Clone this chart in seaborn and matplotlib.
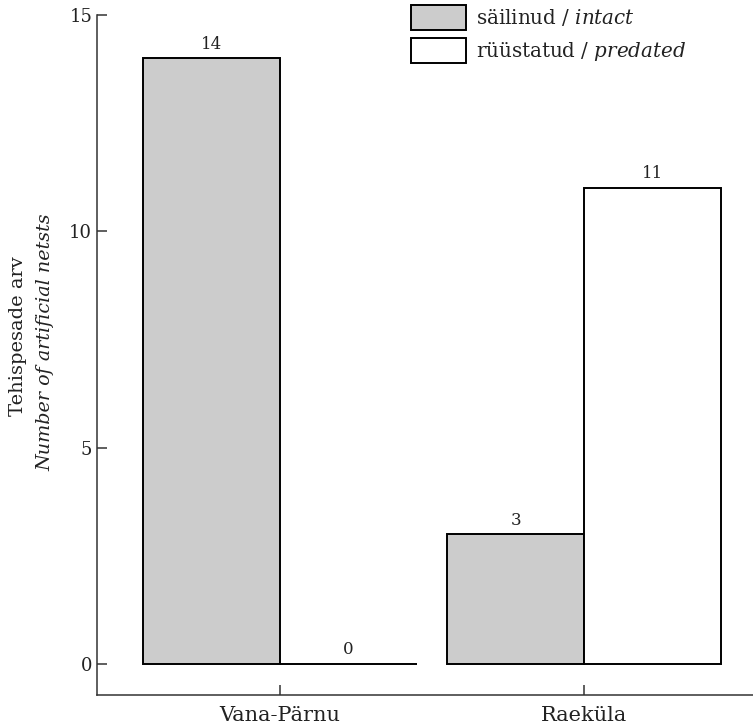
import pandas as pd
import numpy as np
import matplotlib.pyplot as plt
import seaborn as sns

# andmed
sites = ['Vana-Pärnu', 'Raeküla']
intact = [14, 3]
predated = [0, 11]
status_labels = ['säilinud / $\\mathit{intact}$', 'rüüstatud / $\\mathit{predated}$']

df = pd.DataFrame({
    'Site': sites * 2,
    'Count': intact + predated,
    'Status': ['intact'] * len(sites) + ['predated'] * len(sites),
})

sns.set_style('ticks')
plt.rcParams['font.family'] = ['DejaVu Serif']
plt.rcParams['mathtext.fontset'] = 'custom'
plt.rcParams['mathtext.rm'] = 'DejaVu Serif'
plt.rcParams['mathtext.it'] = 'DejaVu Serif:italic'

fig = plt.figure(figsize=(7.53, 7.28), dpi=100)
ax = fig.add_axes([97 / 753, 1 - 695 / 728, 1 - 97 / 753, (695 - 15) / 728])

sns.barplot(data=df, x='Site', y='Count', hue='Status', order=sites,
            palette=['#cccccc', 'white'], edgecolor='black', linewidth=1.4,
            width=0.9, gap=0, ax=ax)

for cont in ax.containers:
    ax.bar_label(cont, padding=4, fontsize=12, color='#222222')

ax.set_xlim(-0.602, 1.556)
ax.set_ylim(-0.72, 15)
ax.set_yticks([0, 5, 10, 15])
ax.set_xlabel('')
ax.set_ylabel('')
ax.tick_params(axis='both', direction='in', length=7, width=1.1,
               labelsize=13, color='#333333', labelcolor='#222222')
ax.tick_params(axis='x', pad=8, labelsize=15)
for side in ['top', 'right']:
    ax.spines[side].set_visible(False)
for side in ['left', 'bottom']:
    ax.spines[side].set_linewidth(1.1)
    ax.spines[side].set_color('#333333')

# telje nimi kahes reas
fig.text(18 / 753, 1 - 336 / 728, 'Tehispesade arv', rotation=90,
         ha='center', va='center', fontsize=14, color='#222222')
fig.text(45 / 753, 1 - 342 / 728, 'Number of artificial netsts', rotation=90,
         ha='center', va='center', fontsize=13.8, style='italic', color='#222222')

handles, _ = ax.get_legend_handles_labels()
fs = 14.3
leg = ax.legend(handles, status_labels, loc='upper left',
                bbox_to_anchor=(411 / 753, 1 - 5 / 728), bbox_transform=fig.transFigure,
                frameon=False, fontsize=fs, borderpad=0, borderaxespad=0,
                handlelength=55 / (fs * 100 / 72), handleheight=31 / (fs * 100 / 72),
                handletextpad=0.5, labelspacing=0.4)
for t in leg.get_texts():
    t.set_color('#222222')

plt.savefig('out.png', dpi=100)
